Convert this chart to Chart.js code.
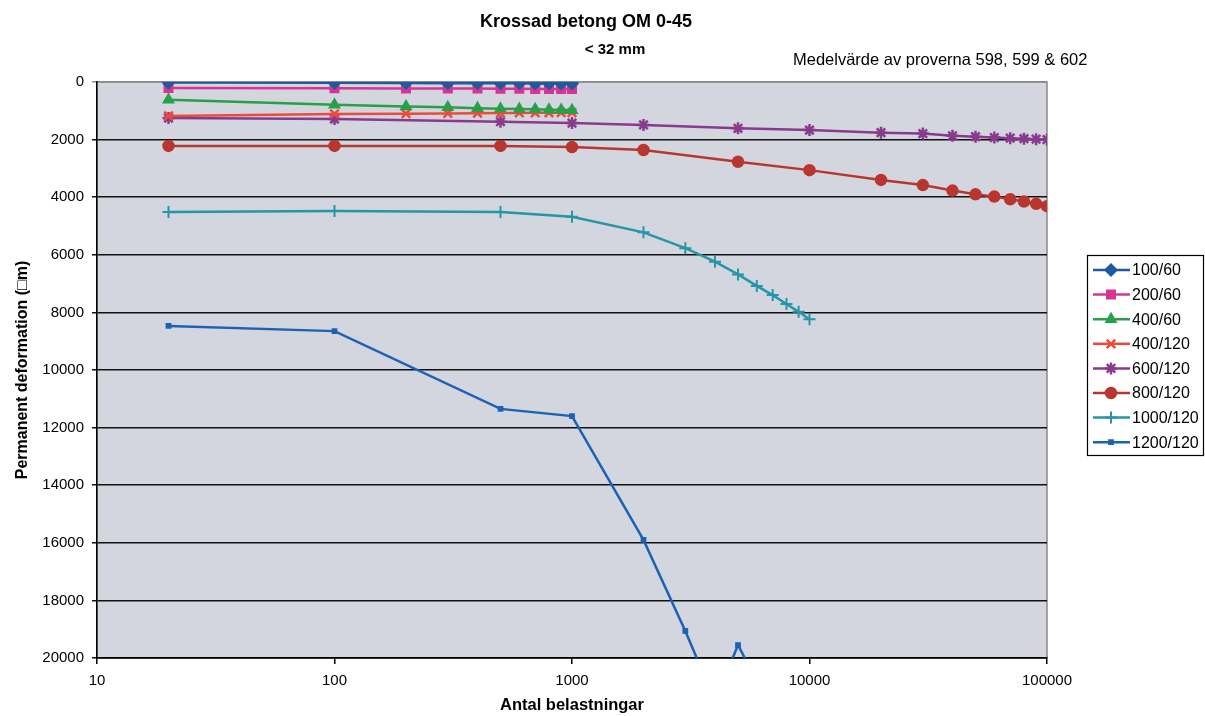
<!DOCTYPE html>
<html>
<head>
<meta charset="utf-8">
<script src="https://cdn.jsdelivr.net/npm/chart.js@4/dist/chart.umd.min.js"></script>
<style>
html, body { margin: 0; padding: 0; background: #fff; }
</style>
</head>
<body>
<canvas id="chart" width="1205" height="716"></canvas>
<script>
// antal belastningar (x)
const loadsShort = [20, 100, 200, 300, 400, 500, 600, 700, 800, 900, 1000];
const loadsLong = [20, 100, 500, 1000, 2000, 5000, 10000, 20000, 30000, 40000, 50000, 60000, 70000, 80000, 90000, 100000];
const loads1000 = [20, 100, 500, 1000, 2000, 3000, 4000, 5000, 6000, 7000, 8000, 9000, 10000];
const loads1200 = [20, 100, 500, 1000, 2000, 3000, 4000, 5000, 6000];

// permanent deformation (y)
const def100_60 = [20, 30, 35, 40, 40, 45, 45, 50, 50, 50, 55];
const def200_60 = [210, 220, 225, 230, 230, 235, 235, 240, 240, 240, 245];
const def400_60 = [620, 790, 850, 880, 910, 930, 940, 950, 960, 970, 980];
const def400_120 = [1180, 1110, 1100, 1090, 1085, 1080, 1075, 1070, 1068, 1066, 1065];
const def600_120 = [1250, 1285, 1380, 1425, 1490, 1610, 1670, 1760, 1790, 1870, 1900, 1930, 1950, 1970, 1985, 2000];
const def800_120 = [2220, 2220, 2220, 2260, 2360, 2770, 3060, 3400, 3580, 3770, 3900, 3980, 4070, 4150, 4230, 4310];
const def1000_120 = [4510, 4480, 4510, 4680, 5220, 5770, 6240, 6680, 7080, 7400, 7710, 7980, 8240];
const def1200_120 = [8470, 8650, 11350, 11600, 15900, 19060, 21500, 19550, 20800];

const seriesNames = ['100/60', '200/60', '400/60', '400/120', '600/120', '800/120', '1000/120', '1200/120'];
const xTickValues = [10, 100, 1000, 10000, 100000];

const FONT = '"Liberation Sans", Arial, sans-serif';

function pts(xs, ys) {
  return xs.map((x, i) => ({ x: x, y: ys[i] }));
}

function serie(label, xs, ys, color, style, radius, bw) {
  return {
    label: label,
    data: pts(xs, ys),
    borderColor: color,
    backgroundColor: color,
    pointBackgroundColor: color,
    pointBorderColor: color,
    pointStyle: style,
    pointRadius: radius,
    pointBorderWidth: bw || 1.5,
    borderWidth: 2.5,
    tension: 0
  };
}

// bakgrund i plottytan
const plotBg = {
  id: 'plotBg',
  beforeDraw(chart) {
    const a = chart.chartArea, ctx = chart.ctx;
    ctx.save();
    ctx.fillStyle = '#d4d6df';
    ctx.fillRect(a.left, a.top, a.right - a.left, a.bottom - a.top);
    ctx.strokeStyle = '#8a8a8a';
    ctx.lineWidth = 1.5;
    ctx.strokeRect(a.left, a.top, a.right - a.left, a.bottom - a.top);
    ctx.restore();
  }
};

// rubriker
const texts = {
  id: 'texts',
  afterDraw(chart) {
    const ctx = chart.ctx;
    ctx.save();
    ctx.fillStyle = '#000';
    ctx.textBaseline = 'middle';
    ctx.textAlign = 'center';
    ctx.font = 'bold 18px ' + FONT;
    ctx.fillText('Krossad betong OM 0-45', 586, 22);
    ctx.font = 'bold 15px ' + FONT;
    ctx.fillText('< 32 mm', 615, 50);
    ctx.textAlign = 'left';
    ctx.font = '16.5px ' + FONT;
    ctx.fillText('Medelvärde av proverna 598, 599 & 602', 793, 60);
    ctx.restore();
  }
};

// legend med linje + markör
const legendBox = {
  id: 'legendBox',
  afterDraw(chart) {
    const ctx = chart.ctx;
    ctx.save();
    ctx.fillStyle = '#fff';
    ctx.fillRect(1087, 255, 116, 200);
    ctx.strokeStyle = '#000';
    ctx.lineWidth = 1.2;
    ctx.strokeRect(1087.5, 255.5, 116, 200);
    chart.data.datasets.forEach((ds, i) => {
      const y = 270 + i * 24.6;
      ctx.strokeStyle = ds.borderColor;
      ctx.lineWidth = ds.borderWidth;
      ctx.beginPath();
      ctx.moveTo(1093, y);
      ctx.lineTo(1130, y);
      ctx.stroke();
      ctx.fillStyle = ds.pointBackgroundColor;
      ctx.strokeStyle = ds.pointBorderColor;
      ctx.lineWidth = ds.pointBorderWidth;
      Chart.helpers.drawPoint(ctx, { pointStyle: ds.pointStyle, radius: ds.pointRadius, borderWidth: ds.pointBorderWidth, rotation: 0 }, 1111, y);
      ctx.fillStyle = '#000';
      ctx.font = '16px ' + FONT;
      ctx.textAlign = 'left';
      ctx.textBaseline = 'middle';
      ctx.fillText(ds.label, 1132, y + 1);
    });
    ctx.restore();
  }
};

const ctx = document.getElementById('chart').getContext('2d');
const chart = new Chart(ctx, {
  type: 'line',
  data: {
    datasets: [
      serie(seriesNames[0], loadsShort, def100_60, '#1f5a9e', 'rectRot', 6),
      serie(seriesNames[1], loadsShort, def200_60, '#d63591', 'rect', 6),
      serie(seriesNames[2], loadsShort, def400_60, '#27a04a', 'triangle', 6),
      serie(seriesNames[3], loadsShort, def400_120, '#ee4a3c', 'crossRot', 6, 2.5),
      serie(seriesNames[4], loadsLong, def600_120, '#8a3a8e', 'star', 6, 2.5),
      serie(seriesNames[5], loadsLong, def800_120, '#b8362e', 'circle', 5.5),
      serie(seriesNames[6], loads1000, def1000_120, '#2596a8', 'cross', 6, 2),
      serie(seriesNames[7], loads1200, def1200_120, '#1c62b4', 'rect', 3)
    ]
  },
  options: {
    responsive: false,
    animation: false,
    layout: { padding: { left: 0, top: 82, right: 158, bottom: 0 } },
    plugins: {
      legend: { display: false },
      title: { display: false },
      tooltip: { enabled: false }
    },
    scales: {
      x: {
        type: 'logarithmic',
        min: 10,
        max: 100000,
        afterBuildTicks: s => { s.ticks = xTickValues.map(v => ({ value: v })); },
        afterFit: s => { s.height = 58; },
        ticks: {
          autoSkip: false,
          maxRotation: 0,
          padding: 8,
          color: '#000',
          font: { size: 15, family: FONT },
          callback: v => String(v)
        },
        grid: { drawOnChartArea: false, drawTicks: true, tickLength: 6, color: '#000', lineWidth: 1.5 },
        border: { display: true, color: '#000', width: 1.5 },
        title: {
          display: true,
          text: 'Antal belastningar',
          color: '#000',
          font: { size: 16.5, weight: 'bold', family: FONT },
          padding: { top: 2, bottom: 1 }
        }
      },
      y: {
        reverse: true,
        min: 0,
        max: 20000,
        afterFit: s => { s.width = 97; },
        ticks: {
          stepSize: 2000,
          padding: 8,
          color: '#000',
          font: { size: 15, family: FONT },
          callback: v => String(v)
        },
        grid: {
          color: c => (c.tick && c.tick.value === 0) ? '#8a8a8a' : '#111',
          lineWidth: 1.5,
          tickLength: 5
        },
        border: { display: true, color: '#000', width: 1.5 },
        title: {
          display: true,
          text: 'Permanent deformation (□m)',
          color: '#000',
          font: { size: 16, weight: 'bold', family: FONT },
          padding: { top: 13, bottom: 0 }
        }
      }
    }
  },
  plugins: [plotBg, texts, legendBox]
});
</script>
</body>
</html>
